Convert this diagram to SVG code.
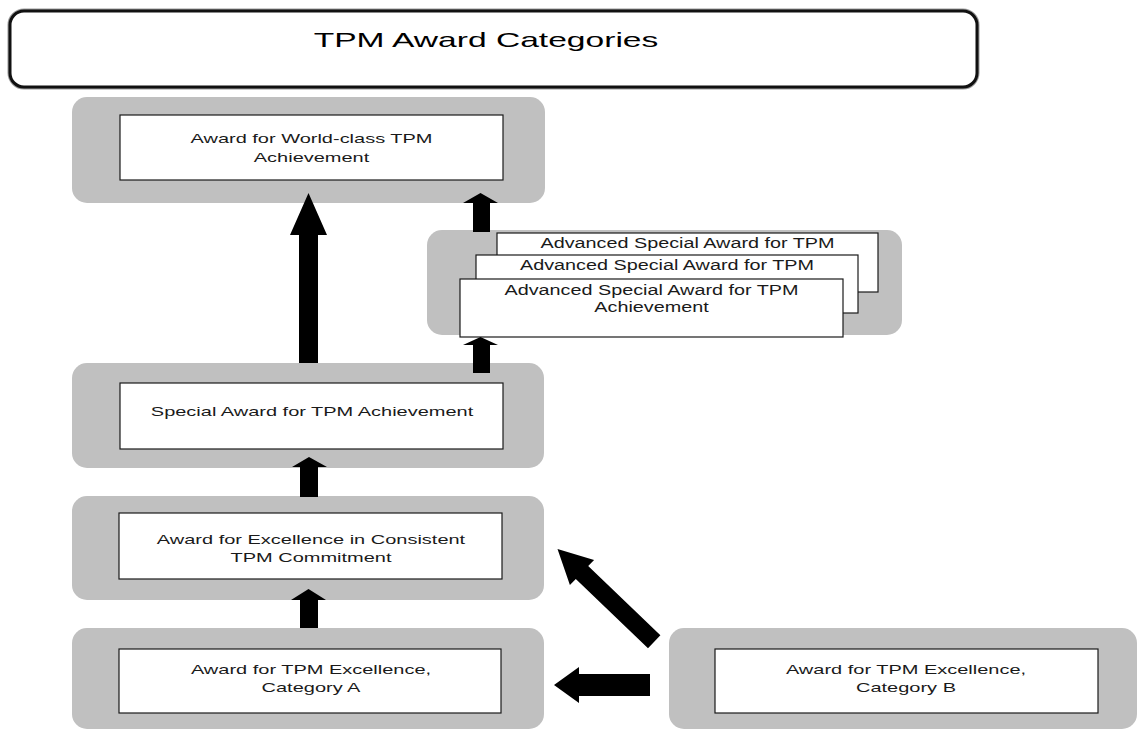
<svg xmlns="http://www.w3.org/2000/svg" width="1138" height="730" viewBox="0 0 1138 730">
<style>
.bg{fill:#c0c0c0}
.box{fill:#fff;stroke:#1a1a1a;stroke-width:1.2}
.t{font-family:"Liberation Sans",Arial,sans-serif;font-size:13.5px;fill:#1a1a1a;text-anchor:middle}
.ta{font-family:"Liberation Sans",Arial,sans-serif;font-size:15px;fill:#1a1a1a;text-anchor:middle}
.title{font-family:"Liberation Sans",Arial,sans-serif;font-size:21px;fill:#000;text-anchor:middle}
.arrow{fill:#000}
</style>
<defs>
  <clipPath id="midclip"><rect x="476" y="255" width="382" height="24"/></clipPath>
</defs>
<rect width="1138" height="730" fill="#fff"/>

<g id="title">
  <rect x="10" y="11" width="967" height="76" rx="14" fill="#fff" stroke="#9a9a9a" stroke-width="5"/>
  <rect x="10" y="11" width="967" height="76" rx="14" fill="#fff" stroke="#111" stroke-width="3"/>
  <text class="title" transform="translate(486 47) scale(1.6 1)">TPM Award Categories</text>
</g>

<g id="world-class">
  <rect class="bg" x="72" y="97" width="473" height="106" rx="15"/>
  <rect class="box" x="120" y="115" width="383" height="65"/>
  <text class="t" transform="translate(311.5 143) scale(1.48 1)"><tspan x="0" y="0">Award for World-class TPM</tspan><tspan x="0" y="19">Achievement</tspan></text>
</g>

<g id="advanced">
  <rect class="bg" x="427" y="230" width="475" height="105" rx="15"/>
  <rect class="box" x="497" y="233" width="381" height="59"/>
  <text class="ta" transform="translate(687.5 248) scale(1.32 1)">Advanced Special Award for TPM</text>
  <rect class="box" x="476" y="255" width="382" height="58"/>
  <text class="ta" transform="translate(667 270) scale(1.32 1)">Advanced Special Award for TPM</text>
  <text class="ta" clip-path="url(#midclip)" transform="translate(667 287) scale(1.32 1)">Achievement</text>
  <rect class="box" x="460" y="279" width="383" height="58"/>
  <text class="ta" transform="translate(651.5 295) scale(1.32 1)"><tspan x="0" y="0">Advanced Special Award for TPM</tspan><tspan x="0" y="17">Achievement</tspan></text>
</g>

<g id="special">
  <rect class="bg" x="72" y="363" width="472" height="105" rx="15"/>
  <rect class="box" x="120" y="383" width="383" height="66"/>
  <text class="t" transform="translate(312 416) scale(1.48 1)">Special Award for TPM Achievement</text>
</g>

<g id="consistent">
  <rect class="bg" x="72" y="496" width="472" height="104" rx="15"/>
  <rect class="box" x="119" y="513" width="383" height="66"/>
  <text class="t" transform="translate(311 544) scale(1.48 1)"><tspan x="0" y="0">Award for Excellence in Consistent</tspan><tspan x="0" y="18">TPM Commitment</tspan></text>
</g>

<g id="category-a">
  <rect class="bg" x="72" y="628" width="472" height="101" rx="15"/>
  <rect class="box" x="119" y="649" width="382" height="64"/>
  <text class="t" transform="translate(311 674) scale(1.48 1)"><tspan x="0" y="0">Award for TPM Excellence,</tspan><tspan x="0" y="18">Category A</tspan></text>
</g>

<g id="category-b">
  <rect class="bg" x="669" y="628" width="468" height="101" rx="15"/>
  <rect class="box" x="715" y="649" width="383" height="64"/>
  <text class="t" transform="translate(906 674) scale(1.48 1)"><tspan x="0" y="0">Award for TPM Excellence,</tspan><tspan x="0" y="18">Category B</tspan></text>
</g>

<g id="connectors">
  <polygon class="arrow" points="308.5,193 327,235 318,235 318,363 299,363 299,235 290,235"/>
  <polygon class="arrow" points="480.5,193 498,203 490,203 490,232 473,232 473,203 463,203"/>
  <polygon class="arrow" points="480.5,337 498,345 490,345 490,373 473,373 473,345 463,345"/>
  <polygon class="arrow" points="309,457 327,467 318,467 318,497 300,497 300,467 292,467"/>
  <polygon class="arrow" points="308.5,589 326,600 318,600 318,628 300,628 300,600 291,600"/>
  <polygon class="arrow" points="554,685 579,667 579,674 650,674 650,696 579,696 579,703"/>
  <polygon class="arrow" points="557.5,549 594.1,559.9 588.2,566 660.4,635.2 648,648.2 575.8,579 569.9,585.1"/>
</g>
</svg>
